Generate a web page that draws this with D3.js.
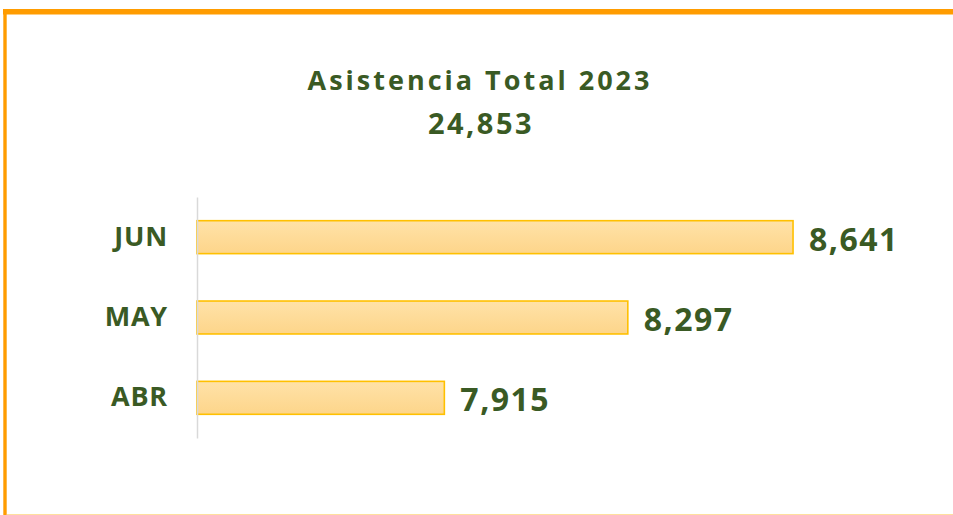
<!DOCTYPE html>
<html>
<head>
<meta charset="utf-8">
<script src="https://cdn.jsdelivr.net/npm/d3@7"></script>
<style>
  body { margin: 0; background: #fff; }
  text { font-family: "Open Sans", "DejaVu Sans", sans-serif; font-weight: 700; fill: #3a5a24; }
</style>
</head>
<body>
<div id="chart"></div>
<script>
// data
var months = ["JUN", "MAY", "ABR"];
var attendance = [8641, 8297, 7915];
var titleText = "Asistencia Total 2023";
var totalText = "24,853";

var W = 953, H = 515;
var svg = d3.select("#chart")
  .append("svg")
  .attr("width", W)
  .attr("height", H);

// frame
svg.append("line")
  .attr("x1", 3).attr("x2", W)
  .attr("y1", 11.8).attr("y2", 11.8)
  .style("stroke", "#ff9c00").style("stroke-width", 5.6);
svg.append("line")
  .attr("x1", 5).attr("x2", 5)
  .attr("y1", 9).attr("y2", H)
  .style("stroke", "#ff9c00").style("stroke-width", 3.4);
svg.append("line")
  .attr("x1", 7).attr("x2", W)
  .attr("y1", 514.5).attr("y2", 514.5)
  .style("stroke", "#ffdf9e").style("stroke-width", 1);

// title
svg.append("text")
  .attr("x", 480)
  .attr("y", 89.5)
  .attr("text-anchor", "middle")
  .style("font-size", "27px")
  .style("letter-spacing", "3px")
  .text(titleText);
svg.append("text")
  .attr("x", 481)
  .attr("y", 133.5)
  .attr("text-anchor", "middle")
  .style("font-size", "29px")
  .style("letter-spacing", "2.5px")
  .text(totalText);

var defs = svg.append("defs");
var grad = defs.append("linearGradient")
  .attr("id", "barFill")
  .attr("x1", "0").attr("y1", "0").attr("x2", "0").attr("y2", "1");
grad.append("stop").attr("offset", "0%").attr("stop-color", "#ffe2a8");
grad.append("stop").attr("offset", "100%").attr("stop-color", "#fdd58a");

var x = d3.scaleLinear().domain([7400, 8800]).range([197, 869.4]);
var y = d3.scaleBand().domain(months).range([197, 438])
  .paddingInner(0.59).paddingOuter(0.295);

var rows = months.map(function (m, i) { return { month: m, value: attendance[i] }; });

// bars
svg.append("g")
  .selectAll("rect")
  .data(rows)
  .enter()
  .append("rect")
  .attr("x", x(7400))
  .attr("y", (d) => y(d.month))
  .attr("width", (d) => x(d.value) - x(7400))
  .attr("height", y.bandwidth())
  .style("fill", "url(#barFill)")
  .style("stroke", "#ffc000")
  .style("stroke-width", 1.6);

// category axis
var axis = svg.append("g")
  .attr("transform", "translate(" + x(7400) + ",0)")
  .call(d3.axisLeft(y).tickSize(0).tickPadding(29));
axis.select(".domain").style("stroke", "#d9d9d9").style("stroke-width", 1.5);
axis.selectAll("text")
  .style("font-size", "27px")
  .style("letter-spacing", "0.8px")
  .style("fill", "#3a5a24")
  .attr("font-family", null);

// value labels
svg.append("g")
  .selectAll("text")
  .data(rows)
  .enter()
  .append("text")
  .attr("x", (d) => x(d.value) + 16)
  .attr("y", (d) => y(d.month) + y.bandwidth() / 2 + 13.5)
  .style("font-size", "32px")
  .style("letter-spacing", "1.5px")
  .text((d) => d3.format(",")(d.value));
</script>
</body>
</html>
